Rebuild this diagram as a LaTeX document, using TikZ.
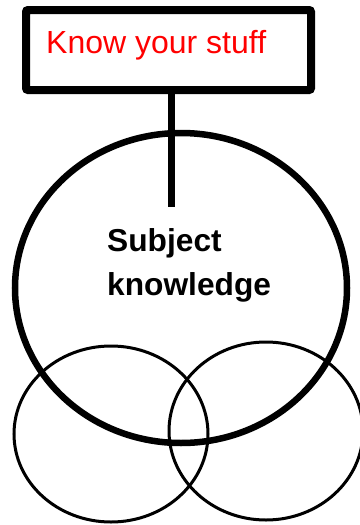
\documentclass[tikz,border=0pt]{standalone}
\usepackage{fontspec}
\setmainfont{Liberation Sans}
\usetikzlibrary{shapes.geometric}

\begin{document}
\begin{tikzpicture}[x=1pt, y=-1pt,
    topic/.style={draw, line width=8pt, rounded corners=2pt,
      minimum width=285pt, minimum height=80pt, inner sep=0pt},
    ring/.style={draw, ellipse, inner sep=0pt},
    stem/.style={line width=7pt}]
  \useasboundingbox (0,0) rectangle (359,525);
  % heading box
  \node[topic] (stuff) at (168.5,50) {};
  \node[red, anchor=base west, inner sep=0pt, font=\fontsize{32}{38}\selectfont]
    (stufflabel) at (46,53) {Know your stuff};
  % main circle and the two below
  \node[ring, line width=6.5pt, minimum width=332pt, minimum height=310pt]
    (subject) at (181,288) {};
  \node[ring, line width=3pt, minimum width=194pt, minimum height=176pt]
    (left) at (111,434) {};
  \node[ring, line width=3pt, minimum width=194pt, minimum height=178pt]
    (right) at (266,431) {};
  \node[anchor=base west, inner sep=0pt, align=left,
    font=\bfseries\fontsize{31.7}{44}\selectfont] (subjectlabel) at (107,295)
    {Subject\\knowledge};
  \coordinate (knob) at (171,207);
  \draw[stem] (stuff.south -| knob) -- (knob);
\end{tikzpicture}
\end{document}
